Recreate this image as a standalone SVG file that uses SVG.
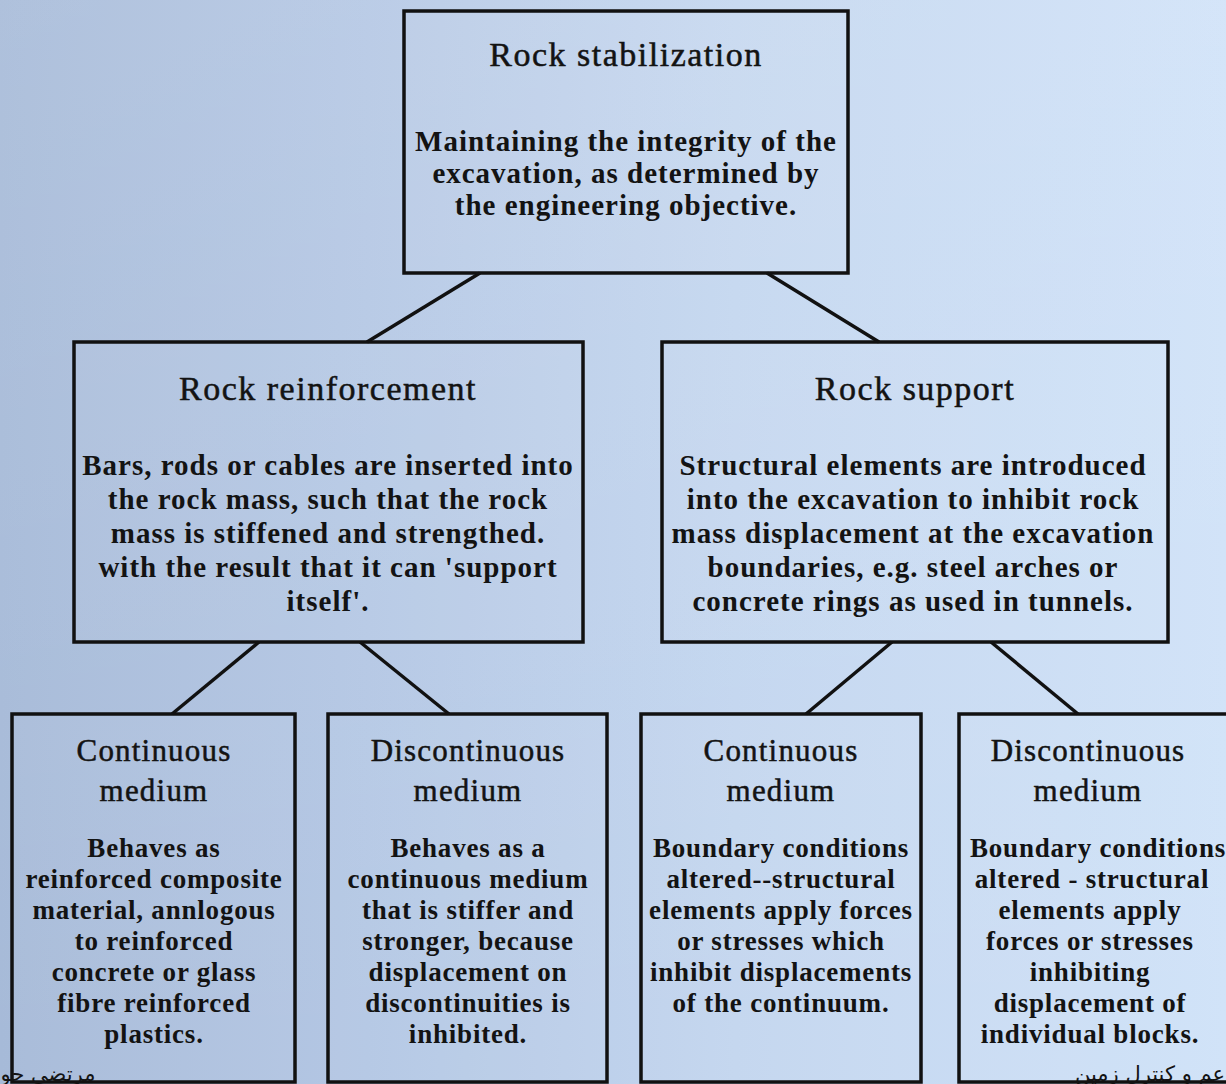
<svg xmlns="http://www.w3.org/2000/svg" width="1226" height="1084" viewBox="0 0 1226 1084">
  <defs>
    <linearGradient id="bg" x1="0" y1="0" x2="1" y2="0">
      <stop offset="0" stop-color="#a6bad8"/>
      <stop offset="0.3" stop-color="#b4c7e4"/>
      <stop offset="0.6" stop-color="#c3d6ef"/>
      <stop offset="1" stop-color="#d0e2f8"/>
    </linearGradient>
    <linearGradient id="sheen" x1="0" y1="0" x2="0" y2="1">
      <stop offset="0" stop-color="#ffffff" stop-opacity="0.10"/>
      <stop offset="1" stop-color="#ffffff" stop-opacity="0"/>
    </linearGradient>
    <style>
      .box { fill: #ffffff; fill-opacity: 0.04; stroke: #111111; stroke-width: 3.5; }
      .link { fill: none; stroke: #111111; stroke-width: 3.5; }
      text { fill: #131313; text-anchor: middle; font-family: "Liberation Serif", "Times New Roman", serif; }
      .h1 { font-size: 34px; letter-spacing: 1.5px; stroke: #131313; stroke-width: 0.5px; }
      .p1 { font-size: 29px; font-weight: bold; letter-spacing: 1px; }
      .h2 { font-size: 31px; letter-spacing: 1.2px; stroke: #131313; stroke-width: 0.5px; }
      .p2 { font-size: 27px; font-weight: bold; letter-spacing: 0.8px; }
      .fa { font-family: "DejaVu Sans", "Noto Sans", sans-serif; font-size: 21px; direction: rtl; }
    </style>
  </defs>

  <!-- backdrop -->
  <rect x="0" y="0" width="1226" height="1084" fill="url(#bg)"/>
  <rect x="0" y="0" width="1226" height="1084" fill="url(#sheen)"/>

  <!-- connectors -->
  <g id="connectors">
    <line class="link" x1="480" y1="273" x2="367" y2="342"/>
    <line class="link" x1="767" y1="273" x2="879" y2="342"/>
    <line class="link" x1="259" y1="642" x2="172" y2="714"/>
    <line class="link" x1="360" y1="642" x2="449" y2="714"/>
    <line class="link" x1="892" y1="642" x2="806" y2="714"/>
    <line class="link" x1="991" y1="642" x2="1078" y2="714"/>
  </g>

  <!-- root -->
  <g id="rock-stabilization">
    <rect class="box" x="404" y="11" width="444" height="262"/>
    <text class="h1" x="626" y="66">Rock stabilization</text>
    <text class="p1" x="626" y="151">Maintaining the integrity of the</text>
    <text class="p1" x="626" y="183">excavation, as determined by</text>
    <text class="p1" x="626" y="215">the engineering objective.</text>
  </g>

  <!-- second level -->
  <g id="rock-reinforcement">
    <rect class="box" x="74" y="342" width="509" height="300"/>
    <text class="h1" x="328" y="400">Rock reinforcement</text>
    <text class="p1" x="328" y="475">Bars, rods or cables are inserted into</text>
    <text class="p1" x="328" y="509">the rock mass, such that the rock</text>
    <text class="p1" x="328" y="543">mass is stiffened and strengthed.</text>
    <text class="p1" x="328" y="577">with the result that it can 'support</text>
    <text class="p1" x="328" y="611">itself'.</text>
  </g>

  <g id="rock-support">
    <rect class="box" x="662" y="342" width="506" height="300"/>
    <text class="h1" x="915" y="400">Rock support</text>
    <text class="p1" x="913" y="475">Structural elements are introduced</text>
    <text class="p1" x="913" y="509">into the excavation to inhibit rock</text>
    <text class="p1" x="913" y="543">mass displacement at the excavation</text>
    <text class="p1" x="913" y="577">boundaries, e.g. steel arches or</text>
    <text class="p1" x="913" y="611">concrete rings as used in tunnels.</text>
  </g>

  <!-- third level -->
  <g id="reinforcement-continuous">
    <rect class="box" x="12" y="714" width="283" height="368"/>
    <text class="h2" x="154" y="761">Continuous</text>
    <text class="h2" x="154" y="801">medium</text>
    <text class="p2" x="154" y="857">Behaves as</text>
    <text class="p2" x="154" y="888">reinforced composite</text>
    <text class="p2" x="154" y="919">material, annlogous</text>
    <text class="p2" x="154" y="950">to reinforced</text>
    <text class="p2" x="154" y="981">concrete or glass</text>
    <text class="p2" x="154" y="1012">fibre reinforced</text>
    <text class="p2" x="154" y="1043">plastics.</text>
  </g>

  <g id="reinforcement-discontinuous">
    <rect class="box" x="328" y="714" width="279" height="368"/>
    <text class="h2" x="468" y="761">Discontinuous</text>
    <text class="h2" x="468" y="801">medium</text>
    <text class="p2" x="468" y="857">Behaves as a</text>
    <text class="p2" x="468" y="888">continuous medium</text>
    <text class="p2" x="468" y="919">that is stiffer and</text>
    <text class="p2" x="468" y="950">stronger, because</text>
    <text class="p2" x="468" y="981">displacement on</text>
    <text class="p2" x="468" y="1012">discontinuities is</text>
    <text class="p2" x="468" y="1043">inhibited.</text>
  </g>

  <g id="support-continuous">
    <rect class="box" x="641" y="714" width="280" height="368"/>
    <text class="h2" x="781" y="761">Continuous</text>
    <text class="h2" x="781" y="801">medium</text>
    <text class="p2" x="781" y="857">Boundary conditions</text>
    <text class="p2" x="781" y="888">altered--structural</text>
    <text class="p2" x="781" y="919">elements apply forces</text>
    <text class="p2" x="781" y="950">or stresses which</text>
    <text class="p2" x="781" y="981">inhibit displacements</text>
    <text class="p2" x="781" y="1012">of the continuum.</text>
  </g>

  <g id="support-discontinuous">
    <rect class="box" x="959" y="714" width="280" height="368"/>
    <text class="h2" x="1088" y="761">Discontinuous</text>
    <text class="h2" x="1088" y="801">medium</text>
    <text class="p2" x="1098" y="857">Boundary conditions</text>
    <text class="p2" x="1092" y="888">altered - structural</text>
    <text class="p2" x="1090" y="919">elements apply</text>
    <text class="p2" x="1090" y="950">forces or stresses</text>
    <text class="p2" x="1090" y="981">inhibiting</text>
    <text class="p2" x="1090" y="1012">displacement of</text>
    <text class="p2" x="1090" y="1043">individual blocks.</text>
  </g>

  <!-- footer captions -->
  <text class="fa" x="48" y="1081">مرتضی حو</text>
  <text class="fa" x="1150" y="1081">عم و کنترل زمین</text>
</svg>
